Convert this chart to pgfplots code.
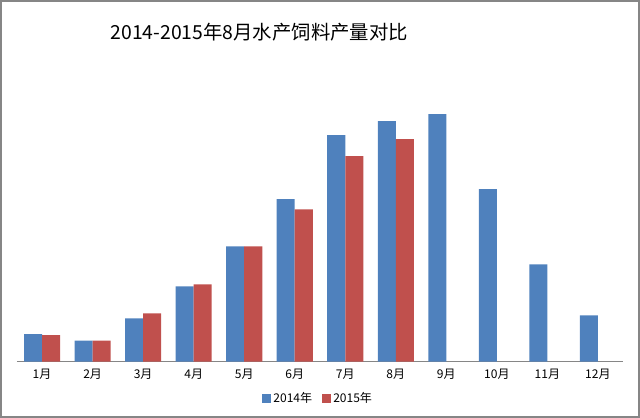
\documentclass[border=0pt]{standalone}
\usepackage{pgfplots}
\pgfplotsset{compat=1.18}
\usepackage{fontspec}
\setmainfont{Noto Sans CJK SC}
\definecolor{cblue}{HTML}{4F81BD}
\definecolor{cred}{HTML}{C0504D}
\definecolor{cframe}{HTML}{868686}
\begin{document}
\begin{tikzpicture}
\draw[cframe,line width=1.2pt] (1.5pt,0.75pt) rectangle (479.25pt,312pt);
\node[anchor=center,font=\fontsize{14.5}{17}\selectfont] at (195pt,288.75pt) {2014-2015年8月水产饲料产量对比};
\begin{axis}[
  at={(13.5pt,42pt)}, anchor=south west,
  scale only axis,
  width=453.75pt, height=225pt,
  xmin=0.5, xmax=12.5, ymin=0, ymax=300,
  ybar=0pt, bar width=13.5pt,
  axis y line=none,
  axis x line*=bottom,
  x axis line style={cframe, line width=0.8pt, -},
  xtick={1,...,12},
  xticklabels={1月,2月,3月,4月,5月,6月,7月,8月,9月,10月,11月,12月},
  major tick length=0pt,
  xticklabel style={font=\fontsize{9}{10}\selectfont, yshift=-2pt},
  legend style={at={(0.497,-0.123)}, anchor=center, draw=none, legend columns=2,
    font=\fontsize{9}{10}\selectfont, /tikz/every even column/.append style={column sep=5pt}},
  legend image code/.code={\fill[#1] (0pt,-3.4pt) rectangle (6.8pt,3.4pt);},
]
\addplot[fill=cblue, draw=none] coordinates {(1,27.5) (2,21) (3,43) (4,75) (5,115) (6,162) (7,226) (8,240) (9,247) (10,172) (11,97) (12,46)};
\addplot[fill=cred, draw=none] coordinates {(1,26.5) (2,21) (3,48) (4,77) (5,115) (6,152) (7,205) (8,222)};
\legend{2014年,2015年}
\end{axis}
\end{tikzpicture}
\end{document}
